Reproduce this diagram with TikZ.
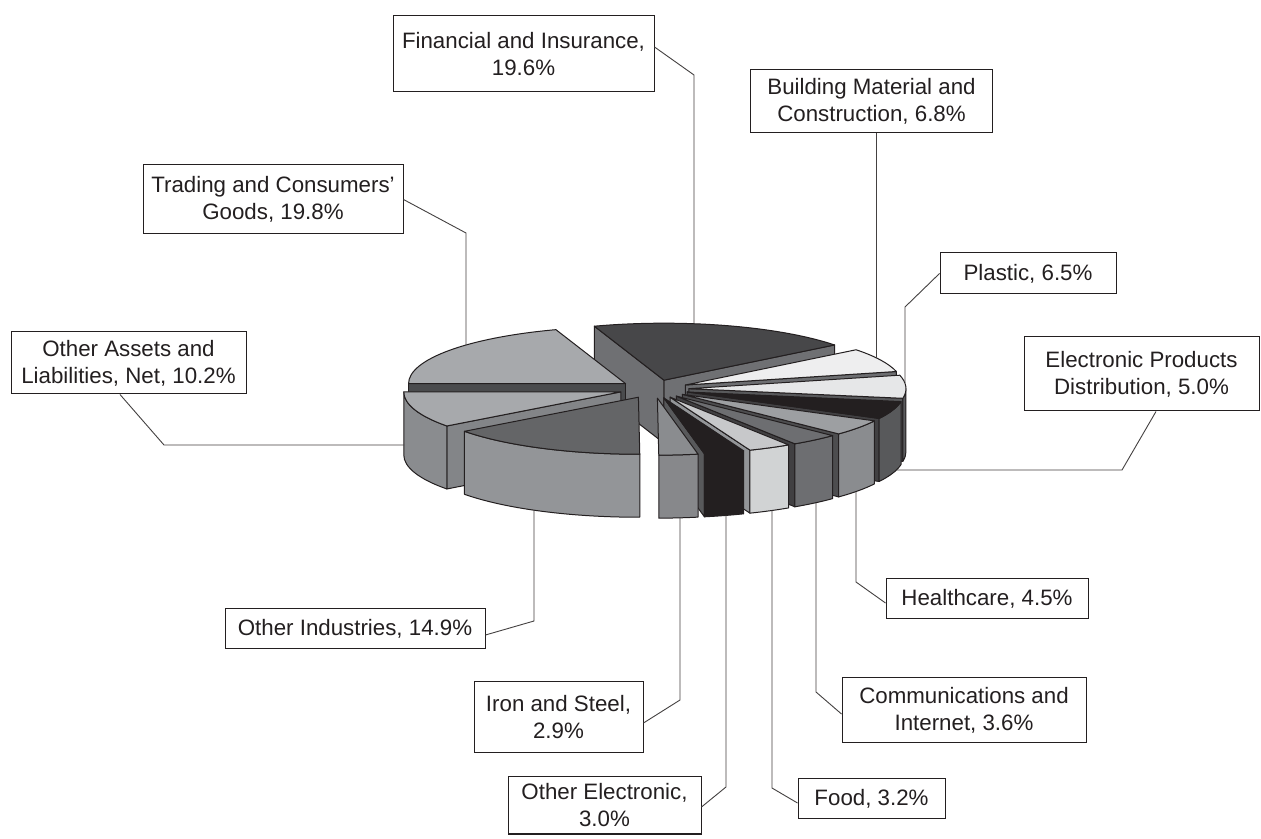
\documentclass[tikz,border=0pt]{standalone}
\usepackage{fontspec}
\setmainfont{Liberation Sans}
\usetikzlibrary{calc}
\definecolor{ink}{HTML}{231F20}
\definecolor{finT}{HTML}{474749}\definecolor{finR}{HTML}{6F7073}
\definecolor{trT}{HTML}{A7A9AC}\definecolor{trR}{HTML}{4A4B4D}
\definecolor{bdT}{HTML}{EEEEEF}\definecolor{bdR}{HTML}{6D6E71}
\definecolor{plT}{HTML}{E6E7E8}\definecolor{plO}{HTML}{5B5C5E}\definecolor{plR}{HTML}{58595B}
\definecolor{oaT}{HTML}{A7A9AC}\definecolor{oaO}{HTML}{8A8C8F}\definecolor{oaR}{HTML}{838588}
\definecolor{epT}{HTML}{231F20}\definecolor{epO}{HTML}{58595B}\definecolor{epR}{HTML}{414042}
\definecolor{hcT}{HTML}{9D9FA2}\definecolor{hcO}{HTML}{8A8C8F}\definecolor{hcR}{HTML}{4D4D4F}
\definecolor{coT}{HTML}{6D6E71}\definecolor{coO}{HTML}{6D6E71}\definecolor{coR}{HTML}{414042}
\definecolor{fdT}{HTML}{C7C8CA}\definecolor{fdO}{HTML}{D1D3D4}\definecolor{fdR}{HTML}{939598}
\definecolor{oiT}{HTML}{646567}\definecolor{oiO}{HTML}{939598}
\definecolor{oeT}{HTML}{231F20}\definecolor{oeO}{HTML}{231F20}\definecolor{oeR}{HTML}{58595B}
\definecolor{irT}{HTML}{8A8C8F}\definecolor{irO}{HTML}{87888B}\definecolor{irR}{HTML}{87888B}
\newcommand\setapex[2]{\pgfmathsetmacro\px{654+35*cos((#1+#2)/2)}\pgfmathsetmacro\py{449+9.195*sin((#1+#2)/2)}}
\newcommand\radface[2]{\filldraw[pe, fill=#2] (\px,\py) -- ++({217*cos(#1)},{57*sin(#1)}) -- ++(0,-63) -- ++({-217*cos(#1)},{-57*sin(#1)}) -- cycle;}
\newcommand\outface[3]{\filldraw[pe, fill=#3] ({\px+217*cos(#1)},{\py+57*sin(#1)}) arc[start angle=#1, end angle=#2, x radius=217, y radius=57] -- ++(0,-63) arc[start angle=#2, end angle=#1, x radius=217, y radius=57] -- cycle;}
\newcommand\topface[3]{\filldraw[pe, fill=#3] (\px,\py) -- ({\px+217*cos(#1)},{\py+57*sin(#1)}) arc[start angle=#1, end angle=#2, x radius=217, y radius=57] -- cycle;}
\begin{document}
\begin{tikzpicture}[x=1pt,y=1pt,
  pe/.style={draw=ink, line width=1pt, line join=round},
  lbl/.style={draw=ink, line width=1pt, fill=white, align=center, inner sep=0pt, font=\fontsize{22.3}{27}\selectfont, text=ink},
  lead/.style={draw=ink!85, line width=0.9pt}]
\useasboundingbox (0,0) rectangle (1261,838);
\fill[white] (0,0) rectangle (1261,838);
% ---- pie slices, back to front ----
% Financial and Insurance
\setapex{38.16}{108.72}
\radface{38.16}{finR}\radface{108.72}{finR}\topface{38.16}{108.72}{finT}
% Trading and Consumers' Goods
\setapex{108.72}{180}
\radface{180}{trR}\topface{108.72}{180}{trT}
% Building Material and Construction
\setapex{13.68}{38.16}
\radface{13.68}{bdR}\topface{13.68}{38.16}{bdT}
% Plastic
\setapex{-9.72}{13.68}
\radface{-9.72}{plR}\outface{-9.72}{0}{plO}\topface{-9.72}{13.68}{plT}
% Other Assets and Liabilities
\setapex{-180}{-143.28}
\radface{-143.28}{oaR}\outface{-180}{-143.28}{oaO}\topface{-180}{-143.28}{oaT}
% Electronic Products Distribution
\setapex{-27.72}{-9.72}
\radface{-27.72}{epR}\outface{-27.72}{-9.72}{epO}\topface{-27.72}{-9.72}{epT}
% Healthcare
\setapex{-43.92}{-27.72}
\radface{-43.92}{hcR}\outface{-43.92}{-27.72}{hcO}\topface{-43.92}{-27.72}{hcT}
% Communications and Internet
\setapex{-56.88}{-43.92}
\radface{-56.88}{coR}\outface{-56.88}{-43.92}{coO}\topface{-56.88}{-43.92}{coT}
% Food
\setapex{-68.4}{-56.88}
\radface{-68.4}{fdR}\outface{-68.4}{-56.88}{fdO}\topface{-68.4}{-56.88}{fdT}
% Other Industries
\setapex{-143.28}{-89.64}
\outface{-143.28}{-89.64}{oiO}\topface{-143.28}{-89.64}{oiT}
% Other Electronic
\setapex{-79.2}{-68.4}
\radface{-79.2}{oeR}\outface{-79.2}{-68.4}{oeO}\topface{-79.2}{-68.4}{oeT}
% Iron and Steel
\setapex{-89.64}{-79.2}
\outface{-89.64}{-79.2}{irO}\topface{-89.64}{-79.2}{irT}
% ---- leader ends on the pie ----
\coordinate (finP) at (694,514.3);
\coordinate (bldP) at (876,480.3);
\coordinate (plaP) at (905,455);
\coordinate (epP) at (897,368);
\coordinate (hcP) at (856,346);
\coordinate (comP) at (816,335);
\coordinate (foodP) at (772,327.5);
\coordinate (oeP) at (726,322.6);
\coordinate (ironP) at (680,320);
\coordinate (oiP) at (534,328);
\coordinate (oaP) at (404,393);
\coordinate (trP) at (466,493);
% ---- labels ----
\node[lbl, minimum width=261pt, minimum height=76pt] (fin) at (523.5,784) {Financial and Insurance,\\19.6\%};
\node[lbl, minimum width=242pt, minimum height=63pt] (bld) at (871.5,736.5) {Building Material and\\Construction, 6.8\%};
\node[lbl, minimum width=176pt, minimum height=41pt] (pla) at (1028,564.5) {Plastic, 6.5\%};
\node[lbl, minimum width=235pt, minimum height=74pt] (ep) at (1141.5,464) {Electronic Products\\Distribution, 5.0\%};
\node[lbl, minimum width=202pt, minimum height=40pt] (hc) at (987,239) {Healthcare, 4.5\%};
\node[lbl, minimum width=244pt, minimum height=65pt] (com) at (964,127.5) {Communications and\\Internet, 3.6\%};
\node[lbl, minimum width=147pt, minimum height=40pt] (food) at (871.5,39) {Food, 3.2\%};
\node[lbl, minimum width=193pt, minimum height=57pt] (oe) at (604.5,32.5) {Other Electronic,\\3.0\%};
\node[lbl, minimum width=169pt, minimum height=71pt] (iron) at (558.5,120.5) {Iron and Steel,\\2.9\%};
\node[lbl, minimum width=260pt, minimum height=40pt] (oi) at (355,209) {Other Industries, 14.9\%};
\node[lbl, minimum width=235pt, minimum height=62pt] (oa) at (128.5,475) {Other Assets and\\Liabilities, Net, 10.2\%};
\node[lbl, minimum width=260pt, minimum height=69pt] (tr) at (273,638.5) {Trading and Consumers'\\Goods, 19.8\%};
% ---- leaders ----
\draw[lead] ([yshift=7pt]fin.east) -- (694,763) -- (finP);
\draw[lead] ([xshift=4.5pt]bld.south) -- (bldP);
\draw[lead] (pla.west) -- (905,531) -- (plaP);
\draw[lead] ([xshift=14.5pt]ep.south) -- (1122,368) -- (epP);
\draw[lead] ([yshift=-4pt]hc.west) -- (856,256) -- (hcP);
\draw[lead] ([yshift=-3.5pt]com.west) -- (816,146) -- (comP);
\draw[lead] ([yshift=-4pt]food.west) -- (772,50) -- (foodP);
\draw[lead] ([yshift=-1.5pt]oe.east) -- (726,51) -- (oeP);
\draw[lead] ([yshift=-5.5pt]iron.east) -- (680,138) -- (ironP);
\draw[lead] ([yshift=-6pt]oi.east) -- (534,217) -- (oiP);
\draw[lead] ([xshift=-8.5pt]oa.south) -- (164,393) -- (oaP);
\draw[lead] (tr.east) -- (466,605) -- (trP);
\end{tikzpicture}
\end{document}
